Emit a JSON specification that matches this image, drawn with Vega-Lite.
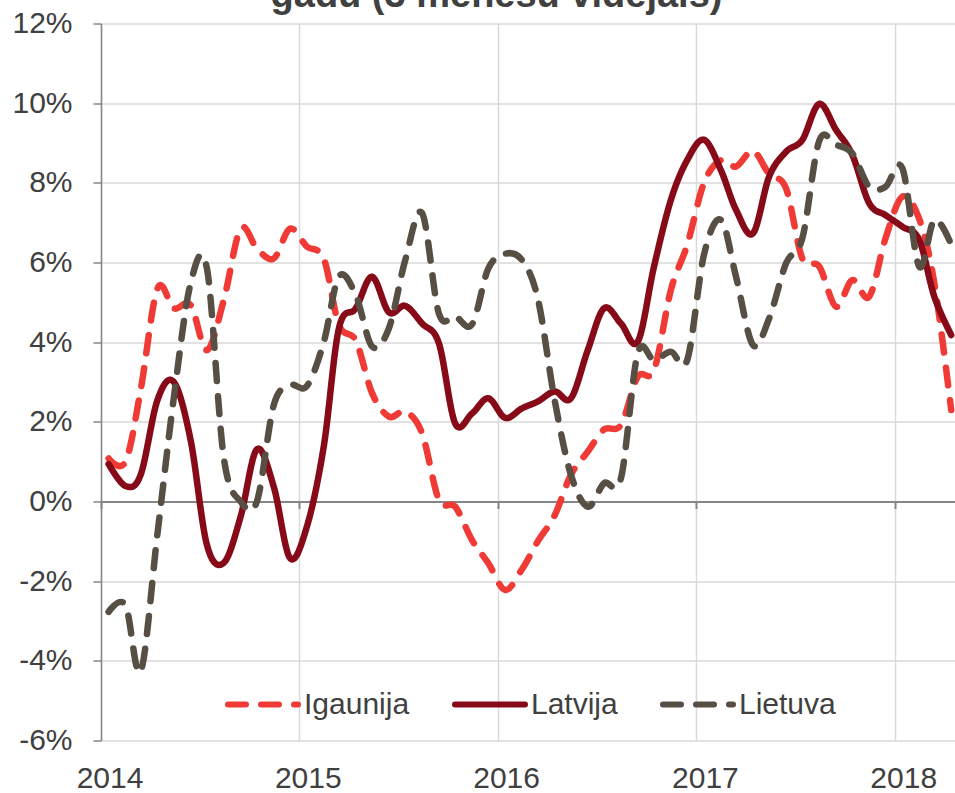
{
  "$schema": "https://vega.github.io/schema/vega-lite/v6.json",
  "width": 854,
  "height": 717,
  "autosize": {"type": "none"},
  "padding": {"left": 101, "top": 23.5, "right": 0, "bottom": 52.5},
  "background": "white",
  "title": {
    "text": "gadu (3 mēnešu vidējais)",
    "font": "Liberation Sans",
    "fontSize": 38,
    "fontWeight": "bold",
    "color": "#404040",
    "anchor": "middle",
    "frame": "group",
    "dx": -31.5,
    "baseline": "alphabetic",
    "offset": -36
  },
  "config": {
    "view": {"stroke": null},
    "axis": {"labelFont": "Liberation Sans", "labelFontSize": 30, "labelColor": "#404040", "titleFont": "Liberation Sans"},
    "legend": {
      "orient": "none",
      "legendX": 124,
      "legendY": 643,
      "direction": "horizontal",
      "symbolType": "stroke",
      "symbolSize": 4900,
      "symbolStrokeWidth": 6,
      "labelFont": "Liberation Sans",
      "labelFontSize": 30,
      "labelColor": "#404040",
      "labelOffset": 3,
      "columnPadding": 33,
      "padding": 0,
      "title": null
    }
  },
  "data": {
    "values": [
      {"d": "2014-01-15", "s": "Igaunija", "v": 1.08},
      {"d": "2014-02-15", "s": "Igaunija", "v": 1.0},
      {"d": "2014-03-15", "s": "Igaunija", "v": 2.8},
      {"d": "2014-04-15", "s": "Igaunija", "v": 5.35},
      {"d": "2014-05-15", "s": "Igaunija", "v": 4.85},
      {"d": "2014-06-15", "s": "Igaunija", "v": 4.93},
      {"d": "2014-07-15", "s": "Igaunija", "v": 3.8},
      {"d": "2014-08-15", "s": "Igaunija", "v": 5.06},
      {"d": "2014-09-15", "s": "Igaunija", "v": 6.85},
      {"d": "2014-10-15", "s": "Igaunija", "v": 6.35},
      {"d": "2014-11-15", "s": "Igaunija", "v": 6.1},
      {"d": "2014-12-15", "s": "Igaunija", "v": 6.85},
      {"d": "2015-01-15", "s": "Igaunija", "v": 6.4},
      {"d": "2015-02-15", "s": "Igaunija", "v": 6.1},
      {"d": "2015-03-15", "s": "Igaunija", "v": 4.43},
      {"d": "2015-04-15", "s": "Igaunija", "v": 4.04},
      {"d": "2015-05-15", "s": "Igaunija", "v": 2.72},
      {"d": "2015-06-15", "s": "Igaunija", "v": 2.13},
      {"d": "2015-07-15", "s": "Igaunija", "v": 2.26},
      {"d": "2015-08-15", "s": "Igaunija", "v": 1.71},
      {"d": "2015-09-15", "s": "Igaunija", "v": 0.04},
      {"d": "2015-10-15", "s": "Igaunija", "v": -0.13},
      {"d": "2015-11-15", "s": "Igaunija", "v": -0.97},
      {"d": "2015-12-15", "s": "Igaunija", "v": -1.55},
      {"d": "2016-01-15", "s": "Igaunija", "v": -2.22},
      {"d": "2016-02-15", "s": "Igaunija", "v": -1.7},
      {"d": "2016-03-15", "s": "Igaunija", "v": -1.0},
      {"d": "2016-04-15", "s": "Igaunija", "v": -0.35},
      {"d": "2016-05-15", "s": "Igaunija", "v": 0.67},
      {"d": "2016-06-15", "s": "Igaunija", "v": 1.25},
      {"d": "2016-07-15", "s": "Igaunija", "v": 1.81},
      {"d": "2016-08-15", "s": "Igaunija", "v": 1.92},
      {"d": "2016-09-15", "s": "Igaunija", "v": 3.13},
      {"d": "2016-10-15", "s": "Igaunija", "v": 3.3},
      {"d": "2016-11-15", "s": "Igaunija", "v": 5.31},
      {"d": "2016-12-15", "s": "Igaunija", "v": 6.44},
      {"d": "2017-01-15", "s": "Igaunija", "v": 8.0},
      {"d": "2017-02-15", "s": "Igaunija", "v": 8.57},
      {"d": "2017-03-15", "s": "Igaunija", "v": 8.41},
      {"d": "2017-04-15", "s": "Igaunija", "v": 8.8},
      {"d": "2017-05-15", "s": "Igaunija", "v": 8.22},
      {"d": "2017-06-15", "s": "Igaunija", "v": 7.86},
      {"d": "2017-07-15", "s": "Igaunija", "v": 6.1},
      {"d": "2017-08-15", "s": "Igaunija", "v": 5.9},
      {"d": "2017-09-15", "s": "Igaunija", "v": 4.89},
      {"d": "2017-10-15", "s": "Igaunija", "v": 5.56},
      {"d": "2017-11-15", "s": "Igaunija", "v": 5.14},
      {"d": "2017-12-15", "s": "Igaunija", "v": 6.6},
      {"d": "2018-01-15", "s": "Igaunija", "v": 7.65},
      {"d": "2018-02-15", "s": "Igaunija", "v": 7.1},
      {"d": "2018-03-15", "s": "Igaunija", "v": 5.48},
      {"d": "2018-04-15", "s": "Igaunija", "v": 2.3},
      {"d": "2014-01-15", "s": "Latvija", "v": 0.94},
      {"d": "2014-02-15", "s": "Latvija", "v": 0.39},
      {"d": "2014-03-15", "s": "Latvija", "v": 0.67},
      {"d": "2014-04-15", "s": "Latvija", "v": 2.55},
      {"d": "2014-05-15", "s": "Latvija", "v": 3.0},
      {"d": "2014-06-15", "s": "Latvija", "v": 1.54},
      {"d": "2014-07-15", "s": "Latvija", "v": -1.09},
      {"d": "2014-08-15", "s": "Latvija", "v": -1.54},
      {"d": "2014-09-15", "s": "Latvija", "v": -0.38},
      {"d": "2014-10-15", "s": "Latvija", "v": 1.31},
      {"d": "2014-11-15", "s": "Latvija", "v": 0.37},
      {"d": "2014-12-15", "s": "Latvija", "v": -1.42},
      {"d": "2015-01-15", "s": "Latvija", "v": -0.63},
      {"d": "2015-02-15", "s": "Latvija", "v": 1.38},
      {"d": "2015-03-15", "s": "Latvija", "v": 4.35},
      {"d": "2015-04-15", "s": "Latvija", "v": 4.85},
      {"d": "2015-05-15", "s": "Latvija", "v": 5.64},
      {"d": "2015-06-15", "s": "Latvija", "v": 4.75},
      {"d": "2015-07-15", "s": "Latvija", "v": 4.91},
      {"d": "2015-08-15", "s": "Latvija", "v": 4.47},
      {"d": "2015-09-15", "s": "Latvija", "v": 3.97},
      {"d": "2015-10-15", "s": "Latvija", "v": 1.96},
      {"d": "2015-11-15", "s": "Latvija", "v": 2.21},
      {"d": "2015-12-15", "s": "Latvija", "v": 2.59},
      {"d": "2016-01-15", "s": "Latvija", "v": 2.1},
      {"d": "2016-02-15", "s": "Latvija", "v": 2.34},
      {"d": "2016-03-15", "s": "Latvija", "v": 2.51},
      {"d": "2016-04-15", "s": "Latvija", "v": 2.76},
      {"d": "2016-05-15", "s": "Latvija", "v": 2.59},
      {"d": "2016-06-15", "s": "Latvija", "v": 3.8},
      {"d": "2016-07-15", "s": "Latvija", "v": 4.85},
      {"d": "2016-08-15", "s": "Latvija", "v": 4.47},
      {"d": "2016-09-15", "s": "Latvija", "v": 4.01},
      {"d": "2016-10-15", "s": "Latvija", "v": 5.9},
      {"d": "2016-11-15", "s": "Latvija", "v": 7.57},
      {"d": "2016-12-15", "s": "Latvija", "v": 8.57},
      {"d": "2017-01-15", "s": "Latvija", "v": 9.08},
      {"d": "2017-02-15", "s": "Latvija", "v": 8.32},
      {"d": "2017-03-15", "s": "Latvija", "v": 7.32},
      {"d": "2017-04-15", "s": "Latvija", "v": 6.73},
      {"d": "2017-05-15", "s": "Latvija", "v": 8.16},
      {"d": "2017-06-15", "s": "Latvija", "v": 8.78},
      {"d": "2017-07-15", "s": "Latvija", "v": 9.08},
      {"d": "2017-08-15", "s": "Latvija", "v": 9.98},
      {"d": "2017-09-15", "s": "Latvija", "v": 9.33},
      {"d": "2017-10-15", "s": "Latvija", "v": 8.7},
      {"d": "2017-11-15", "s": "Latvija", "v": 7.49},
      {"d": "2017-12-15", "s": "Latvija", "v": 7.19},
      {"d": "2018-01-15", "s": "Latvija", "v": 6.9},
      {"d": "2018-02-15", "s": "Latvija", "v": 6.57},
      {"d": "2018-03-15", "s": "Latvija", "v": 5.14},
      {"d": "2018-04-15", "s": "Latvija", "v": 4.18},
      {"d": "2014-01-15", "s": "Lietuva", "v": -2.77},
      {"d": "2014-02-15", "s": "Lietuva", "v": -2.6},
      {"d": "2014-03-15", "s": "Lietuva", "v": -4.27},
      {"d": "2014-04-15", "s": "Lietuva", "v": -0.8},
      {"d": "2014-05-15", "s": "Lietuva", "v": 2.6},
      {"d": "2014-06-15", "s": "Lietuva", "v": 5.48},
      {"d": "2014-07-15", "s": "Lietuva", "v": 5.85},
      {"d": "2014-08-15", "s": "Lietuva", "v": 1.1},
      {"d": "2014-09-15", "s": "Lietuva", "v": 0.0},
      {"d": "2014-10-15", "s": "Lietuva", "v": 0.0},
      {"d": "2014-11-15", "s": "Lietuva", "v": 2.42},
      {"d": "2014-12-15", "s": "Lietuva", "v": 2.92},
      {"d": "2015-01-15", "s": "Lietuva", "v": 2.9},
      {"d": "2015-02-15", "s": "Lietuva", "v": 4.0},
      {"d": "2015-03-15", "s": "Lietuva", "v": 5.65},
      {"d": "2015-04-15", "s": "Lietuva", "v": 5.18},
      {"d": "2015-05-15", "s": "Lietuva", "v": 3.89},
      {"d": "2015-06-15", "s": "Lietuva", "v": 4.35},
      {"d": "2015-07-15", "s": "Lietuva", "v": 6.06},
      {"d": "2015-08-15", "s": "Lietuva", "v": 7.24},
      {"d": "2015-09-15", "s": "Lietuva", "v": 4.72},
      {"d": "2015-10-15", "s": "Lietuva", "v": 4.65},
      {"d": "2015-11-15", "s": "Lietuva", "v": 4.45},
      {"d": "2015-12-15", "s": "Lietuva", "v": 5.85},
      {"d": "2016-01-15", "s": "Lietuva", "v": 6.22},
      {"d": "2016-02-15", "s": "Lietuva", "v": 6.06},
      {"d": "2016-03-15", "s": "Lietuva", "v": 5.1},
      {"d": "2016-04-15", "s": "Lietuva", "v": 2.55},
      {"d": "2016-05-15", "s": "Lietuva", "v": 0.67},
      {"d": "2016-06-15", "s": "Lietuva", "v": -0.13},
      {"d": "2016-07-15", "s": "Lietuva", "v": 0.46},
      {"d": "2016-08-15", "s": "Lietuva", "v": 0.58},
      {"d": "2016-09-15", "s": "Lietuva", "v": 3.72},
      {"d": "2016-10-15", "s": "Lietuva", "v": 3.55},
      {"d": "2016-11-15", "s": "Lietuva", "v": 3.76},
      {"d": "2016-12-15", "s": "Lietuva", "v": 3.55},
      {"d": "2017-01-15", "s": "Lietuva", "v": 6.2},
      {"d": "2017-02-15", "s": "Lietuva", "v": 7.07},
      {"d": "2017-03-15", "s": "Lietuva", "v": 5.64},
      {"d": "2017-04-15", "s": "Lietuva", "v": 3.93},
      {"d": "2017-05-15", "s": "Lietuva", "v": 4.6},
      {"d": "2017-06-15", "s": "Lietuva", "v": 5.98},
      {"d": "2017-07-15", "s": "Lietuva", "v": 6.61},
      {"d": "2017-08-15", "s": "Lietuva", "v": 9.05},
      {"d": "2017-09-15", "s": "Lietuva", "v": 8.95},
      {"d": "2017-10-15", "s": "Lietuva", "v": 8.74},
      {"d": "2017-11-15", "s": "Lietuva", "v": 7.9},
      {"d": "2017-12-15", "s": "Lietuva", "v": 7.9},
      {"d": "2018-01-15", "s": "Lietuva", "v": 8.37},
      {"d": "2018-02-15", "s": "Lietuva", "v": 5.9},
      {"d": "2018-03-15", "s": "Lietuva", "v": 7.07},
      {"d": "2018-04-15", "s": "Lietuva", "v": 6.45}
    ]
  },
  "resolve": {"axis": {"x": "independent"}},
  "layer": [
    {
      "mark": {"type": "point", "opacity": 0},
      "encoding": {
        "x": {
          "field": "d",
          "type": "temporal",
          "scale": {"domain": [{"year": 2014, "month": 1, "date": 1}, {"year": 2018, "month": 4, "date": 22}]},
          "axis": {
            "orient": "bottom",
            "offset": -239,
            "title": null,
            "labels": false,
            "grid": false,
            "domain": true,
            "domainColor": "#868686",
            "domainWidth": 2,
            "ticks": true,
            "tickColor": "#868686",
            "tickWidth": 2,
            "tickSize": 7,
            "values": [{"year": 2014, "month": 1, "date": 1}, {"year": 2015, "month": 1, "date": 1}, {"year": 2016, "month": 1, "date": 1}, {"year": 2017, "month": 1, "date": 1}, {"year": 2018, "month": 1, "date": 1}]
          }
        },
        "y": {"field": "v", "type": "quantitative"}
      }
    },
    {
      "mark": {"type": "line", "strokeWidth": 6.5, "strokeCap": "round", "strokeJoin": "round", "interpolate": "cardinal"},
      "encoding": {
        "x": {
          "field": "d",
          "type": "temporal",
          "axis": {
            "orient": "bottom",
            "title": null,
            "format": "%Y",
            "grid": true,
            "gridColor": "#d9d9d9",
            "gridWidth": 1.5,
            "domain": false,
            "ticks": false,
            "tickSize": 0,
            "labelPadding": 23,
            "labelOffset": 8.5,
            "labelFlush": false,
            "labelOverlap": false,
            "values": [{"year": 2014, "month": 1, "date": 1}, {"year": 2015, "month": 1, "date": 1}, {"year": 2016, "month": 1, "date": 1}, {"year": 2017, "month": 1, "date": 1}, {"year": 2018, "month": 1, "date": 1}]
          }
        },
        "y": {
          "field": "v",
          "type": "quantitative",
          "scale": {"domain": [-6, 12], "nice": false, "zero": false},
          "axis": {
            "title": null,
            "values": [-6, -4, -2, 0, 2, 4, 6, 8, 10, 12],
            "labelExpr": "datum.value + '%'",
            "grid": true,
            "gridColor": "#d9d9d9",
            "gridWidth": 1.5,
            "domain": true,
            "domainColor": "#868686",
            "domainWidth": 1.5,
            "ticks": true,
            "tickColor": "#868686",
            "tickWidth": 1.5,
            "tickSize": 8,
            "labelPadding": 21,
            "labelFlush": false,
            "labelOverlap": false
          }
        },
        "color": {
          "field": "s",
          "type": "nominal",
          "title": null,
          "scale": {"domain": ["Igaunija", "Latvija", "Lietuva"], "range": ["#EF3A36", "#870A19", "#574E44"]},
          "legend": {"encode": {"symbols": {"update": {"strokeCap": {"value": "round"}}}}}
        },
        "strokeDash": {
          "field": "s",
          "type": "nominal",
          "title": null,
          "scale": {"domain": ["Igaunija", "Latvija", "Lietuva"], "range": [[18, 15], [1, 0], [18, 15]]}
        }
      }
    }
  ]
}
